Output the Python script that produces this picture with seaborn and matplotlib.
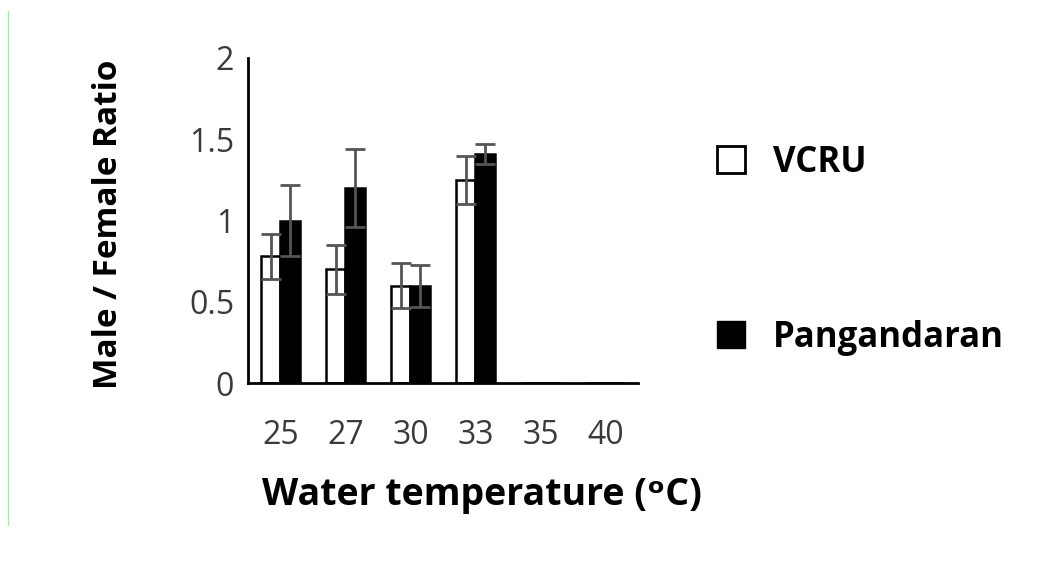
import pandas as pd
import seaborn as sns
import matplotlib.pyplot as plt
from matplotlib.patches import Patch
from matplotlib.lines import Line2D

# values
temps = ["25", "27", "30", "33", "35", "40"]
vcru = [0.78, 0.70, 0.60, 1.25, 0, 0]
vcru_err = [0.14, 0.15, 0.14, 0.15, 0, 0]
pang = [1.00, 1.20, 0.60, 1.41, 0, 0]
pang_err = [0.22, 0.24, 0.13, 0.06, 0, 0]

df = pd.DataFrame({
    "temp": temps * 2,
    "ratio": vcru + pang,
    "site": ["VCRU"] * len(temps) + ["Pangandaran"] * len(temps),
})
errs = vcru_err + pang_err

sns.set_style("white")
plt.rcParams["font.family"] = ["Open Sans", "DejaVu Sans"]
plt.rcParams["text.color"] = "black"
plt.rcParams["axes.labelcolor"] = "black"

fig = plt.figure(figsize=(10.46, 5.62), dpi=100)
ax = fig.add_axes([0.237, 0.318, 0.373, 0.579])

sns.barplot(data=df, x="temp", y="ratio", hue="site", order=temps,
            hue_order=["VCRU", "Pangandaran"],
            palette={"VCRU": "white", "Pangandaran": "black"},
            edgecolor="black", linewidth=1.8, width=0.6,
            errorbar=None, legend=False, ax=ax)

# error bars on top of each bar
bars = [p for p in ax.patches][:len(errs)]
for bar, e, v in zip(bars, errs, df["ratio"]):
    if v == 0:
        continue
    x = bar.get_x() + bar.get_width() / 2
    ax.errorbar(x, v, yerr=e, fmt="none", ecolor="#555555",
                elinewidth=2, capsize=7.5, capthick=2, zorder=5)

ax.set_ylim(0, 2)
ax.set_xlim(-0.5, 5.5)
ax.set_yticks([0, 0.5, 1, 1.5, 2])
ax.set_yticklabels(["0", "0.5", "1", "1.5", "2"])
ax.tick_params(axis="both", length=0, labelsize=23, labelcolor="#3a3a3a")
ax.tick_params(axis="x", pad=26)
ax.tick_params(axis="y", pad=10)
for s in ["top", "right"]:
    ax.spines[s].set_visible(False)
for s in ["left", "bottom"]:
    ax.spines[s].set_color("black")
    ax.spines[s].set_linewidth(2)

ax.set_xlabel("Water temperature (ᵒC)", fontsize=27, fontweight="bold")
ax.set_ylabel("Male / Female Ratio", fontsize=24, fontweight="bold")
ax.xaxis.set_label_coords(0.60, -0.285)
ax.yaxis.set_label_coords(-0.315, 0.49)

handles = [Patch(facecolor="white", edgecolor="black", linewidth=2, label="VCRU"),
           Patch(facecolor="black", edgecolor="black", label="Pangandaran")]
fig.legend(handles=handles, loc="center left", bbox_to_anchor=(0.656, 0.555),
           frameon=False, handlelength=0.8, handleheight=0.8, handletextpad=0.8,
           labelspacing=4.0, prop={"size": 25, "weight": "bold"})

# thin green border line at the left edge
fig.add_artist(Line2D([0.008, 0.008], [0.065, 0.98], color="#9af29a", lw=1))

fig.savefig("out.png", dpi=100)
